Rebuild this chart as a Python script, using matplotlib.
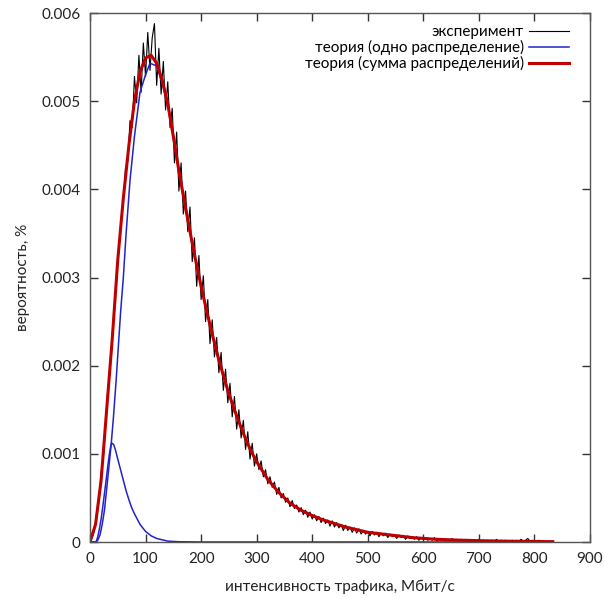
import matplotlib
matplotlib.use("Agg")
import matplotlib.pyplot as plt

plt.rcParams['font.family'] = ['Lato', 'DejaVu Sans']

# experiment (step 4 Mbit/s)
exp_x = list(range(0, 833, 4))
exp_y = [
    0.00000, 0.00005, 0.00013, 0.00034, 0.00046, 0.00079, 0.00095, 0.00128,
    0.00175, 0.00192, 0.00236, 0.00262, 0.00308, 0.00330, 0.00368, 0.00384,
    0.00425, 0.00432, 0.00478, 0.00470, 0.00528, 0.00498, 0.00552, 0.00510,
    0.00566, 0.00528, 0.00578, 0.00535, 0.00572, 0.00588, 0.00518, 0.00560,
    0.00508, 0.00545, 0.00490, 0.00522, 0.00470, 0.00492, 0.00430, 0.00465,
    0.00398, 0.00430, 0.00372, 0.00398, 0.00352, 0.00380, 0.00318, 0.00345,
    0.00290, 0.00325, 0.00275, 0.00302, 0.00250, 0.00275, 0.00225, 0.00252,
    0.00210, 0.00232, 0.00192, 0.00215, 0.00172, 0.00196, 0.00158, 0.00180,
    0.00142, 0.00165, 0.00128, 0.00150, 0.00118, 0.00138, 0.00105, 0.00125,
    0.00094, 0.00112, 0.00086, 0.00100, 0.00082, 0.00092, 0.00074, 0.00082,
    0.00066, 0.00074, 0.00062, 0.00068, 0.00054, 0.00062, 0.00050, 0.00055,
    0.00045, 0.00050, 0.00040, 0.00047, 0.00038, 0.00042, 0.00034, 0.00039,
    0.00031, 0.00036, 0.00028, 0.00034, 0.00026, 0.00031, 0.00024, 0.00029,
    0.00022, 0.00027, 0.00021, 0.00025, 0.00018, 0.00024, 0.00017, 0.00022,
    0.00016, 0.00020, 0.00013, 0.00019, 0.00013, 0.00017, 0.00011, 0.00016,
    0.00010, 0.00015, 0.00009, 0.00013, 0.00009, 0.00012, 0.00007, 0.00012,
    0.00008, 0.00011, 0.00006, 0.00010, 0.00007, 0.00010, 0.00005, 0.00009,
    0.00006, 0.00008, 0.00004, 0.00008, 0.00005, 0.00007, 0.00003, 0.00007,
    0.00004, 0.00006, 0.00003, 0.00006, 0.00002, 0.00005, 0.00003, 0.00005,
    0.00002, 0.00004, 0.00002, 0.00005, 0.00001, 0.00003, 0.00002, 0.00004,
    0.00001, 0.00003, 0.00001, 0.00004, 0.00001, 0.00003, 0.00001, 0.00003,
    0.00002, 0.00003, 0.00000, 0.00003, 0.00001, 0.00002, 0.00001, 0.00003,
    0.00000, 0.00002, 0.00001, 0.00002, 0.00000, 0.00002, 0.00001, 0.00003,
    0.00000, 0.00002, 0.00001, 0.00002, 0.00000, 0.00001, 0.00002, 0.00000,
    0.00002, 0.00001, 0.00003, 0.00001, 0.00002, 0.00004, 0.00001, 0.00002,
    0.00000, 0.00001, 0.00002, 0.00000, 0.00001, 0.00000, 0.00001, 0.00000,
    0.00000,
]

# theory: sum of distributions
sum_x = [0, 10, 20, 30, 40, 50, 60, 70, 80, 90, 100, 110, 120, 130, 140, 150,
         160, 170, 180, 190, 200, 210, 220, 230, 240, 250, 260, 270, 280, 290,
         300, 320, 340, 360, 380, 400, 420, 440, 460, 480, 500, 540, 580, 620,
         660, 700, 740, 780, 833]
sum_y = [0.0, 0.0002, 0.0007, 0.0015, 0.0023, 0.0032, 0.0039, 0.0045, 0.0050,
         0.00533, 0.00549, 0.00552, 0.00543, 0.00524, 0.00497, 0.00460,
         0.00421, 0.00386, 0.00352, 0.00320, 0.00290, 0.00262, 0.00236,
         0.00211, 0.00189, 0.00168, 0.00150, 0.00133, 0.00117, 0.00103,
         0.00091, 0.00071, 0.00056, 0.00044, 0.00036, 0.00030, 0.00025,
         0.00021, 0.00017, 0.00014, 0.00011, 0.00008, 0.00005, 0.000032,
         0.000022, 0.000015, 0.00001, 0.000007, 0.000004]

# theory: single distribution (main component)
one_x = [0, 10, 14, 18, 22, 26, 30, 34, 38, 42, 47, 55, 60, 65, 72, 80, 90,
         100, 108, 120, 130, 140, 150, 160, 170, 180, 190, 200, 210, 220, 230,
         240, 250, 260, 270, 280, 290, 300, 320, 340, 360, 380, 400, 420, 440,
         460, 480, 500, 540, 580, 620, 660, 700, 740, 780, 833]
one_y = [0.0, 0.0, 0.00002, 0.00008, 0.0002, 0.00036, 0.0006, 0.00085, 0.0011,
         0.0014, 0.00183, 0.0026, 0.0030, 0.0035, 0.0041, 0.0046, 0.0051,
         0.0053, 0.00543, 0.0054, 0.0052, 0.00495, 0.00459, 0.00420, 0.00385,
         0.00351, 0.00320, 0.00290, 0.00262, 0.00236, 0.00211, 0.00189,
         0.00168, 0.00150, 0.00133, 0.00117, 0.00103, 0.00091, 0.00071,
         0.00056, 0.00044, 0.00036, 0.00030, 0.00025, 0.00021, 0.00017,
         0.00014, 0.00011, 0.00008, 0.00005, 0.000032, 0.000022, 0.000015,
         0.00001, 0.000007, 0.000004]

# second component
two_x = [0, 11, 14, 17, 20, 23, 26, 29, 32, 35, 38, 40, 43, 46, 50, 55, 60,
         65, 70, 75, 80, 90, 100, 110, 120, 140, 160, 200, 833]
two_y = [0.0, 0.0, 0.00006, 0.00015, 0.00026, 0.00040, 0.00055, 0.00070,
         0.00086, 0.00100, 0.00111, 0.00112, 0.00110, 0.00104, 0.00094,
         0.00082, 0.00070, 0.00058, 0.00048, 0.00039, 0.00032, 0.00020,
         0.00012, 0.00007, 0.00004, 0.00001, 0.000003, 0.0, 0.0]

x_ticks = [0, 100, 200, 300, 400, 500, 600, 700, 800, 900]
y_ticks = [0, 0.001, 0.002, 0.003, 0.004, 0.005, 0.006]
y_tick_labels = ['0', '0.001', '0.002', '0.003', '0.004', '0.005', '0.006']

fig = plt.figure(figsize=(6.05, 5.98), dpi=100)
ax = fig.add_axes([90/605, 56/598, 500/605, 529/598])

ax.plot(exp_x, exp_y, color='black', lw=0.8, label='эксперимент')
ax.plot(one_x, one_y, color='#2222cc', lw=1.1, label='теория (одно распределение)')
ax.plot(two_x, two_y, color='#2222cc', lw=1.1)
ax.plot(sum_x, sum_y, color='#c00000', lw=2.2, label='теория (сумма распределений)')

ax.set_xlim(0, 900)
ax.set_ylim(0, 0.006)
ax.set_xticks(x_ticks)
ax.set_xticklabels([str(v) for v in x_ticks])
ax.set_yticks(y_ticks)
ax.set_yticklabels(y_tick_labels)
ax.tick_params(direction='in', length=6, width=1, color='#333333',
               top=True, right=True, labelsize=11, pad=7, labelcolor='#222222')
for s in ax.spines.values():
    s.set_color('#555555')
    s.set_linewidth(1)

ax.set_xlabel('интенсивность трафика, Мбит/с', fontsize=11, labelpad=10, color='#222222')
ax.set_ylabel('вероятность, %', fontsize=11, labelpad=8, color='#222222')

leg = ax.legend(loc='upper right', bbox_to_anchor=(0.97, 0.988),
                markerfirst=False, frameon=False, fontsize=11,
                handlelength=2.6, handletextpad=0.35, labelspacing=0.05,
                borderaxespad=0.0)
for t in leg.get_texts():
    t.set_ha('right')

fig.savefig('out.png', dpi=100)
